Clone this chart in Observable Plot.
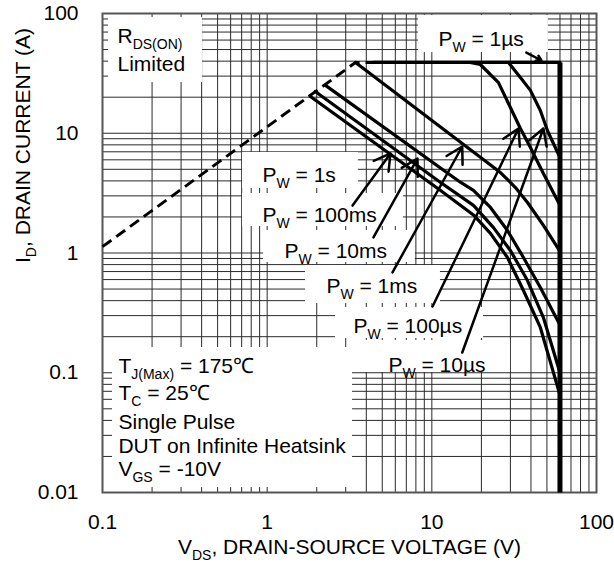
<!DOCTYPE html>
<html><head><meta charset="utf-8">
<script src="https://cdn.jsdelivr.net/npm/d3@7"></script>
<script src="https://cdn.jsdelivr.net/npm/@observablehq/plot@0.6"></script>
<style>html,body{margin:0;padding:0;background:#fff;} svg{display:block}</style>
</head><body><div id="chart"></div>
<script>
// ---- tick labels ----
const xTicks = [0.1, 1, 10];
const xTickLabels = ["0.1", "1", "10"];
const xTickEnd = [100];
const xTickEndLabels = ["100"];
const yTicks = [0.01, 0.1, 1, 10, 100];
const yTickLabels = ["0.01", "0.1", "1", "10", "100"];
const xDecades = [0.1, 1, 10];
const yDecades = [0.01, 0.1, 1, 10];
const gridSteps = [1, 2, 3, 4, 5, 6, 7, 8, 9];
const xTitle = "V_{DS}, DRAIN-SOURCE VOLTAGE (V)";
const yTitle = "I_{D}, DRAIN CURRENT (A)";

// ---- series (V in volts, I in amps) ----
const rdsV = [0.1, 3.44, 4.4];
const rdsI = [1.13, 39, 39];
const pw1usV = [4.4, 60];
const pw1usI = [39, 39];
const bvV = [60, 60];
const bvI = [39, 0.01];
const pw10usV = [29.2, 34.5, 39.7, 45.6, 50.4, 60];
const pw10usI = [39, 29.2, 22.8, 15.5, 10.5, 6.27];
const pw100usV = [17.1, 19.7, 25.4, 30.0, 34.5, 39.7, 47.6, 60];
const pw100usI = [39, 37.5, 26.5, 16.4, 10.96, 7.6, 4.62, 2.5];
const pw1msV = [3.44, 26.1, 32.2, 38.1, 47.6, 60];
const pw1msI = [39, 4.7, 3.52, 2.64, 1.7, 1.03];
const pw10msV = [2.26, 14.9, 17.9, 22.7, 28.8, 36.0, 45.6, 60];
const pw10msI = [25.1, 3.9, 3.33, 2.4, 1.54, 0.917, 0.515, 0.25];
const pw100msV = [1.96, 11.3, 17.9, 23.7, 30.0, 38.1, 47.6, 60];
const pw100msI = [22.3, 3.88, 2.5, 1.63, 1.05, 0.589, 0.289, 0.1];
const pw1sV = [1.83, 11.3, 17.9, 22.7, 28.8, 36.0, 45.6, 60];
const pw1sI = [20.3, 3.33, 2.08, 1.46, 0.917, 0.486, 0.239, 0.065];

// ---- annotations ----
const noteText = ["R_{DS(ON)}", "Limited", "P_{W} = 1µs", "P_{W} = 1s", "P_{W} = 100ms",
  "P_{W} = 10ms", "P_{W} = 1ms", "P_{W} = 100µs", "P_{W} = 10µs",
  "T_{J(Max)} = 175℃", "T_{C} = 25℃", "Single Pulse", "DUT on Infinite Heatsink", "V_{GS} = -10V"];
const noteV = [0.1233, 0.1233, 10.96, 0.937, 0.937, 1.274, 2.29, 3.34, 5.45, 0.125, 0.125, 0.125, 0.125, 0.125];
const noteI = [56.2, 33.4, 54.0, 3.88, 1.80, 0.900, 0.459, 0.2128, 0.1005, 0.0986, 0.0587, 0.0342, 0.02117, 0.01361];

const boxV1 = [0.1088, 8.29, 0.708, 0.708, 0.950, 1.709, 2.60, 3.30, 0.115];
const boxV2 = [0.405, 51.0, 3.58, 6.72, 7.95, 11.28, 20.6, 30.0, 3.30];
const boxI1 = [92.6, 96.2, 6.91, 3.14, 1.542, 0.786, 0.351, 0.186, 0.1625];
const boxI2 = [26.5, 47.2, 3.46, 1.665, 0.833, 0.379, 0.193, 0.1005, 0.0110];

const arrowV1 = [3.30, 4.42, 5.77, 10.1, 15.3, 37.5];
const arrowI1 = [2.49, 1.35, 0.688, 0.357, 0.1476, 47.2];
const arrowV2 = [5.61, 8.18, 15.3, 33.6, 47.6, 46.3];
const arrowI2 = [6.78, 6.15, 7.75, 10.96, 10.96, 40.5];

// ---- build tables ----
const rows = (V, I, s) => V.map((v, k) => ({s, v, i: I[k]}));
const pulseRows = [
  ...rows(pw1usV, pw1usI, "1µs"), ...rows(pw10usV, pw10usI, "10µs"),
  ...rows(pw100usV, pw100usI, "100µs"), ...rows(pw1msV, pw1msI, "1ms"),
  ...rows(pw10msV, pw10msI, "10ms"), ...rows(pw100msV, pw100msI, "100ms"),
  ...rows(pw1sV, pw1sI, "1s")
];
const gridX = [...xDecades.flatMap(d => gridSteps.map(k => d * k)), 100];
const gridY = [...yDecades.flatMap(d => gridSteps.map(k => d * k)), 100];
const notes = noteText.map((t, k) => ({t, v: noteV[k], i: noteI[k]}));
const boxes = boxV1.map((v, k) => ({v1: v, v2: boxV2[k], i1: boxI1[k], i2: boxI2[k]}));
const arrows = arrowV1.map((v, k) => ({v1: v, i1: arrowI1[k], v2: arrowV2[k], i2: arrowI2[k]}));

const FONT = "'Liberation Sans', Arial, Helvetica, sans-serif";
const FS = 21;

const svg = Plot.plot({
  width: 614, height: 563,
  marginLeft: 102, marginRight: 18, marginTop: 13, marginBottom: 71,
  style: {fontFamily: FONT, fontSize: FS + "px", background: "white", color: "black"},
  x: {type: "log", domain: [0.1, 100], axis: null},
  y: {type: "log", domain: [0.01, 100], axis: null},
  marks: [
    Plot.ruleX(gridX, {stroke: "#2a2a2a", strokeWidth: 1}),
    Plot.ruleY(gridY, {stroke: "#2a2a2a", strokeWidth: 1}),
    Plot.rect(boxes, {x1: "v1", x2: "v2", y1: "i1", y2: "i2", fill: "white"}),
    Plot.frame({stroke: "#555", strokeWidth: 2}),
    Plot.line(rows(rdsV, rdsI, "rds"), {x: "v", y: "i", stroke: "black", strokeWidth: 3, strokeDasharray: "11,6", strokeLinecap: "butt"}),
    Plot.line(pulseRows, {x: "v", y: "i", z: "s", stroke: "black", strokeWidth: 3.2}),
    Plot.line(rows(bvV, bvI, "bv"), {x: "v", y: "i", stroke: "black", strokeWidth: 5, strokeLinecap: "butt"}),
    Plot.arrow(arrows, {x1: "v1", y1: "i1", x2: "v2", y2: "i2", stroke: "black", strokeWidth: 2.5, headLength: 11}),
    Plot.text(notes, {x: "v", y: "i", text: "t", textAnchor: "start", lineAnchor: "bottom", fontSize: FS, fill: "black"}),
    Plot.axisX(xTicks, {tickSize: 0, tickPadding: 22, tickFormat: d => xTickLabels[xTicks.indexOf(d)], label: null, fontSize: FS}),
    Plot.axisX(xTickEnd, {tickSize: 0, tickPadding: 22, dx: 0, tickFormat: d => xTickEndLabels[xTickEnd.indexOf(d)], label: null, fontSize: FS}),
    Plot.axisY(yTicks, {tickSize: 0, tickPadding: 24, tickFormat: d => yTickLabels[yTicks.indexOf(d)], label: null, fontSize: FS}),
    Plot.text([xTitle], {frameAnchor: "bottom", dy: 61, text: d => d, fontSize: FS, fill: "black"}),
    Plot.text([yTitle], {frameAnchor: "left", dx: -79, dy: 10, rotate: -90, text: d => d, fontSize: FS, fill: "black"})
  ]
});

// render subscripts written as _{...}
const NS = "http://www.w3.org/2000/svg";
svg.querySelectorAll("text").forEach(t => {
  const s = t.textContent;
  if (!s.includes("_{") || t.children.length) return;
  t.textContent = "";
  const re = /_\{([^}]*)\}/g;
  let last = 0, m, shifted = false;
  const add = (str, sub) => {
    if (!str) return;
    const ts = document.createElementNS(NS, "tspan");
    ts.textContent = str;
    if (sub) { ts.setAttribute("font-size", "14px"); ts.setAttribute("dy", "6px"); shifted = true; }
    else if (shifted) { ts.setAttribute("dy", "-6px"); shifted = false; }
    t.appendChild(ts);
  };
  while ((m = re.exec(s))) { add(s.slice(last, m.index), false); add(m[1], true); last = m.index + m[0].length; }
  add(s.slice(last), false);
});

document.getElementById("chart").appendChild(svg);
</script>
</body></html>
